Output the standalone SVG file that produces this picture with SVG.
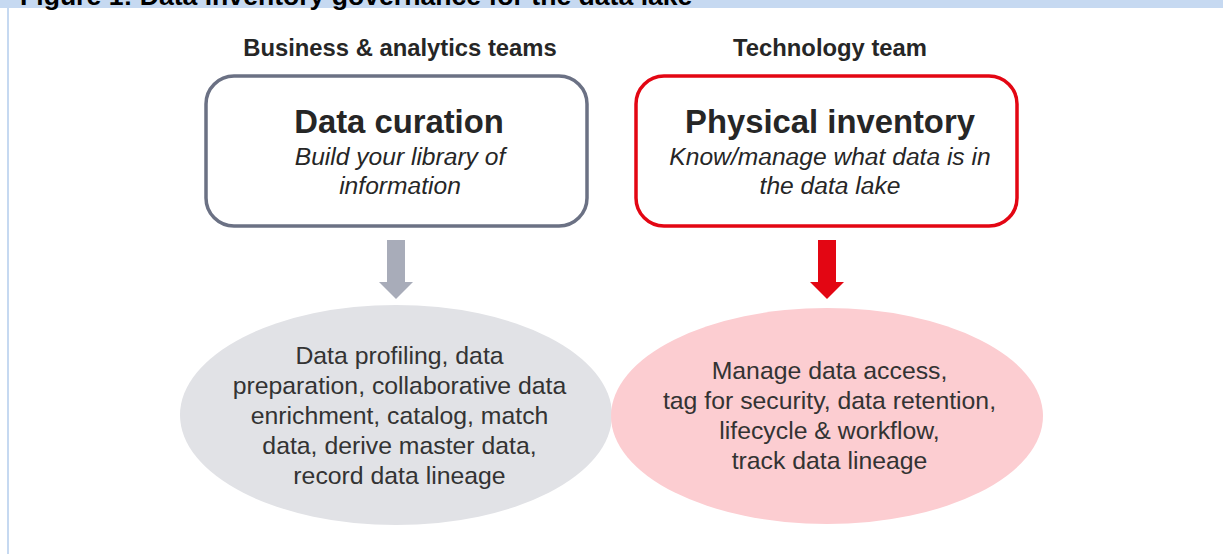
<svg xmlns="http://www.w3.org/2000/svg" width="1223" height="554" viewBox="0 0 1223 554">
  <style>
    .fig-title { font-family: "Liberation Sans", Arial, sans-serif; font-weight: bold; font-size: 26.6px; fill: #000000; }
    .team { font-family: "Liberation Sans", Arial, sans-serif; font-weight: bold; font-size: 23.8px; fill: #262626; text-anchor: middle; }
    .box-title { font-family: "Liberation Sans", Arial, sans-serif; font-weight: bold; font-size: 32.8px; fill: #262626; text-anchor: middle; }
    .box-sub { font-family: "Liberation Sans", Arial, sans-serif; font-style: italic; font-size: 24.6px; fill: #262626; text-anchor: middle; }
    .body { font-family: "Liberation Sans", Arial, sans-serif; font-size: 24.8px; fill: #333333; text-anchor: middle; }
    .box { fill: #ffffff; stroke-width: 3.5; }
  </style>

  <!-- page frame: caption band and left rule -->
  <rect x="0" y="0" width="1223" height="8" fill="#c6d9f1"/>
  <rect x="7" y="8" width="2" height="546" fill="#c6d9f1"/>
  <text class="fig-title" x="20" y="5">Figure 1: Data inventory governance for the data lake</text>

  <!-- column headings -->
  <text class="team" x="400" y="56">Business &amp; analytics teams</text>
  <text class="team" x="830" y="56">Technology team</text>

  <!-- top boxes -->
  <g id="data-curation">
    <rect class="box" x="206" y="76" width="381" height="150" rx="28" ry="28" stroke="#6b7184"/>
    <text class="box-title" x="399" y="133">Data curation</text>
    <text class="box-sub" x="400" y="165">Build your library of</text>
    <text class="box-sub" x="400" y="194">information</text>
  </g>

  <g id="physical-inventory">
    <rect class="box" x="636" y="76" width="381" height="150" rx="28" ry="28" stroke="#e30613"/>
    <text class="box-title" x="830" y="133">Physical inventory</text>
    <text class="box-sub" x="830" y="165">Know/manage what data is in</text>
    <text class="box-sub" x="830" y="194">the data lake</text>
  </g>

  <!-- block arrows from each box down to its activity ellipse -->
  <g id="connectors">
    <path d="M387,240 H405 V282 H413 L396,299 L379,282 H387 Z" fill="#a8acb9"/>
    <path d="M818,240 H836 V282 H844 L827,299 L810,282 H818 Z" fill="#e30613"/>
  </g>

  <!-- activity ellipses -->
  <g id="curation-activities">
    <ellipse cx="396" cy="415" rx="216" ry="110" fill="#e1e2e6"/>
    <text class="body" x="399.5" y="364">Data profiling, data</text>
    <text class="body" x="399.5" y="394">preparation, collaborative data</text>
    <text class="body" x="399.5" y="424">enrichment, catalog, match</text>
    <text class="body" x="399.5" y="454">data, derive master data,</text>
    <text class="body" x="399.5" y="484">record data lineage</text>
  </g>

  <g id="inventory-activities">
    <ellipse cx="827" cy="416" rx="216" ry="108" fill="#fccdd1"/>
    <text class="body" x="829.5" y="379">Manage data access,</text>
    <text class="body" x="829.5" y="409">tag for security, data retention,</text>
    <text class="body" x="829.5" y="439">lifecycle &amp; workflow,</text>
    <text class="body" x="829.5" y="469">track data lineage</text>
  </g>
</svg>
